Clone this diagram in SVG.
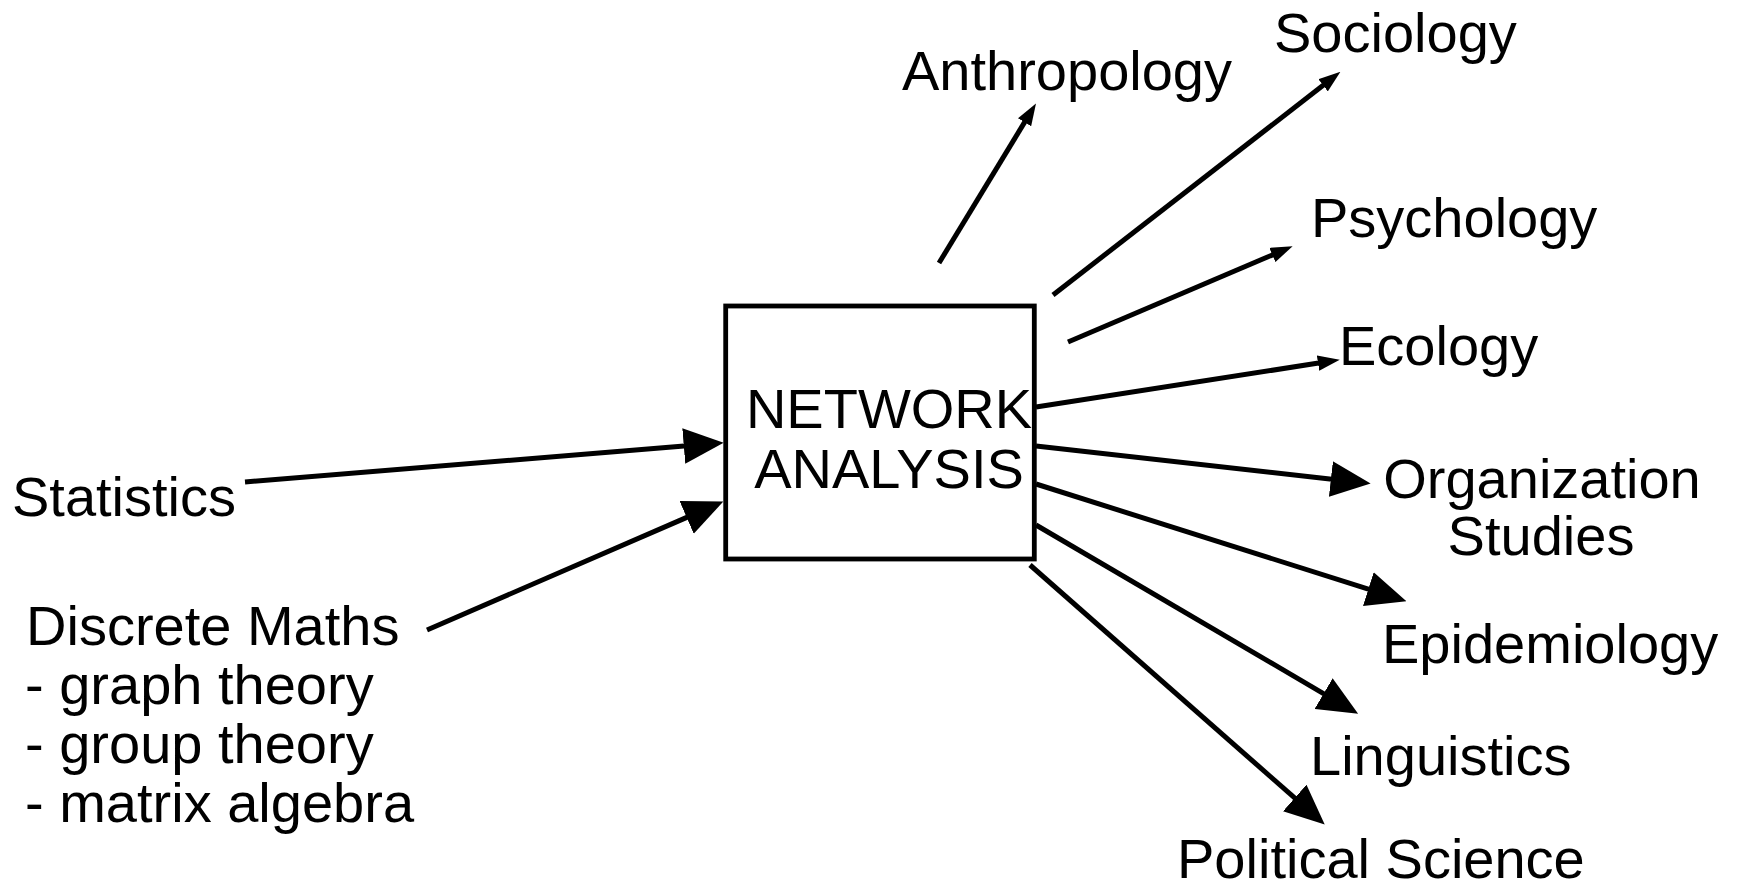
<svg xmlns="http://www.w3.org/2000/svg" width="1741" height="891" viewBox="0 0 1741 891">
<style>
text{font-family:"Liberation Sans",Arial,sans-serif;font-size:56px;fill:#000}
.c{text-anchor:middle}
.ln{stroke:#000;stroke-width:5;fill:none}
.big{marker-end:url(#big)}
.sm{marker-end:url(#sm)}
</style>
<defs>
<marker id="big" markerUnits="userSpaceOnUse" markerWidth="40" markerHeight="36" refX="3" refY="16" orient="auto" viewBox="0 0 36 32">
<path d="M0,0 L36,16 L0,32 z" fill="#000"/>
</marker>
<marker id="sm" markerUnits="userSpaceOnUse" markerWidth="22" markerHeight="16" refX="2" refY="7" orient="auto" viewBox="0 0 20 14">
<path d="M0,0 L20,7 L0,14 z" fill="#000"/>
</marker>
</defs>
<rect width="1741" height="891" fill="#fff"/>
<g id="connectors">
<line class="ln big" x1="245" y1="482" x2="687.1" y2="445.7"/>
<line class="ln big" x1="427" y1="630" x2="689.7" y2="516.1"/>
<line class="ln sm" x1="939" y1="263" x2="1025.7" y2="120.4"/>
<line class="ln sm" x1="1053" y1="295" x2="1324.8" y2="84"/>
<line class="ln sm" x1="1068" y1="342" x2="1274.4" y2="254.1"/>
<line class="ln sm" x1="1036" y1="407" x2="1320.2" y2="362.8"/>
<line class="ln big" x1="1036" y1="446" x2="1334.2" y2="479.4"/>
<line class="ln big" x1="1036" y1="484" x2="1371.5" y2="590.1"/>
<line class="ln big" x1="1036" y1="525" x2="1326.5" y2="695.3"/>
<line class="ln big" x1="1030" y1="565" x2="1297.2" y2="800.2"/>
</g>
<g id="network-analysis">
<rect x="725.7" y="306" width="308.6" height="253" fill="#fff" stroke="#000" stroke-width="4.8"/>
<text class="c" x="889" y="428">NETWORK</text>
<text class="c" x="889" y="488">ANALYSIS</text>
</g>
<g id="statistics"><text x="12" y="516">Statistics</text></g>
<g id="discrete-maths">
<text x="26" y="645">Discrete Maths</text>
<text x="25" y="704">- graph theory</text>
<text x="25" y="763">- group theory</text>
<text x="25" y="822">- matrix algebra</text>
</g>
<g id="anthropology"><text x="902" y="90">Anthropology</text></g>
<g id="sociology"><text x="1274" y="52">Sociology</text></g>
<g id="psychology"><text x="1311" y="237">Psychology</text></g>
<g id="ecology"><text x="1339" y="365">Ecology</text></g>
<g id="organization-studies">
<text class="c" x="1542" y="498">Organization</text>
<text class="c" x="1541" y="555">Studies</text>
</g>
<g id="epidemiology"><text x="1382" y="663">Epidemiology</text></g>
<g id="linguistics"><text x="1310" y="775">Linguistics</text></g>
<g id="political-science"><text x="1177" y="878">Political Science</text></g>
</svg>
